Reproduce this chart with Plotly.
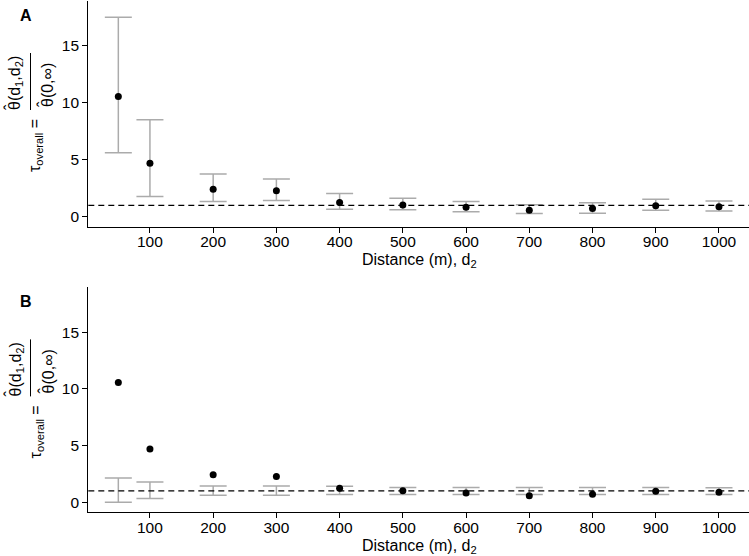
import plotly.graph_objects as go

# datos
distancia = [50, 100, 200, 300, 400, 500, 600, 700, 800, 900, 1000]
tau_est = [10.55, 4.70, 2.42, 2.28, 1.25, 1.03, 0.83, 0.57, 0.71, 0.97, 0.88]

# panel A: intervalo del estimador
a_inf = [5.61, 1.78, 1.34, 1.43, 0.65, 0.60, 0.44, 0.27, 0.31, 0.56, 0.49]
a_sup = [17.52, 8.51, 3.74, 3.30, 2.03, 1.63, 1.34, 1.04, 1.22, 1.53, 1.38]

# panel B: envolvente nula
b_inf = [0.0, 0.33, 0.62, 0.62, 0.68, 0.68, 0.68, 0.68, 0.68, 0.68, 0.68]
b_sup = [2.14, 1.79, 1.44, 1.44, 1.41, 1.30, 1.30, 1.30, 1.30, 1.30, 1.28]

x_ticks = [100, 200, 300, 400, 500, 600, 700, 800, 900, 1000]
y_ticks = [0, 5, 10, 15]

W, H = 749, 556
FONT = "Liberation Sans, Arial, Helvetica, sans-serif"
GRIS = "#ababab"


def py(p):
    return 1 - p / H


def px(p):
    return p / W


def texto(txt, x, y, size=16, angle=0):
    fig.add_annotation(text=txt, xref="paper", yref="paper", x=px(x), y=py(y),
                       xanchor="center", yanchor="middle",
                       textangle=angle, showarrow=False,
                       font=dict(size=size, color="black", family=FONT))


fig = go.Figure()

paneles = [("A", a_inf, a_sup, "x", "y", 0.0), ("B", b_inf, b_sup, "x2", "y2", 286.4)]

for letra, inf, sup, xa, ya, off in paneles:
    mid = [(lo + hi) / 2 for lo, hi in zip(inf, sup)]
    half = [(hi - lo) / 2 for lo, hi in zip(inf, sup)]
    # barras de error (traza invisible centrada en el intervalo)
    fig.add_trace(go.Scatter(
        x=distancia, y=mid, mode="markers",
        marker=dict(size=0.1, opacity=0),
        error_y=dict(type="data", array=half, symmetric=True,
                     color=GRIS, thickness=1.5, width=13.5),
        xaxis=xa, yaxis=ya, showlegend=False, hoverinfo="skip",
    ))
    # puntos
    fig.add_trace(go.Scatter(
        x=distancia, y=tau_est, mode="markers",
        marker=dict(size=7, color="black"),
        xaxis=xa, yaxis=ya, showlegend=False,
    ))
    # linea de referencia en 1
    fig.add_shape(type="line", xref=xa + " domain", yref=ya,
                  x0=0, x1=1, y0=1, y1=1,
                  line=dict(color="black", width=1.3, dash="6px,4px"))

    # letra del panel
    texto("<b>%s</b>" % letra, 26, 15 + off, size=16)

    # titulo eje y: tau_overall = theta(d1,d2) / theta(0,inf)
    texto("τ<sub>overall</sub> =", 36, 146 + off, angle=-90)
    texto("θ(d<sub>1</sub>,d<sub>2</sub>)", 16, 83 + off, angle=-90)
    texto("θ(0,∞)", 48, 85 + off, angle=-90)
    texto("ˆ", 10, 107 + off, angle=-90)
    texto("ˆ", 44, 104 + off, angle=-90)
    fig.add_shape(type="line", xref="paper", yref="paper",
                  x0=px(30.5), x1=px(30.5), y0=py(53 + off), y1=py(110 + off),
                  line=dict(color="black", width=1))

    # titulo eje x
    texto("Distance (m), d<sub>2</sub>", 419, 260 + off)

eje_x = dict(range=[2.5, 1047.5], tickvals=x_ticks, showline=True, linecolor="black",
             linewidth=1.2, ticks="outside", ticklen=5, tickcolor="black", tickwidth=1,
             ticklabelstandoff=-4,
             showgrid=False, zeroline=False, domain=[px(88.3), 1],
             tickfont=dict(size=15.5, color="black", family=FONT))
eje_y = dict(range=[-0.88, 18.95], tickvals=y_ticks, showline=True, linecolor="black",
             linewidth=1.2, ticks="outside", ticklen=5, tickcolor="black", tickwidth=1,
             showgrid=False, zeroline=False,
             tickfont=dict(size=15.5, color="black", family=FONT))

fig.update_layout(
    width=W, height=H,
    margin=dict(l=0, r=0, t=0, b=0),
    plot_bgcolor="white", paper_bgcolor="white",
    xaxis=dict(eje_x, anchor="y"),
    yaxis=dict(eje_y, anchor="x", domain=[py(226.7), py(1)]),
    xaxis2=dict(eje_x, anchor="y2"),
    yaxis2=dict(eje_y, anchor="x2", domain=[py(512.3), py(287.3)]),
)

# quitar el margen por defecto del body para que la figura empiece en (0, 0)
fig.write_html("out.html", config={"displayModeBar": False},
               post_script="document.body.style.margin='0';")
